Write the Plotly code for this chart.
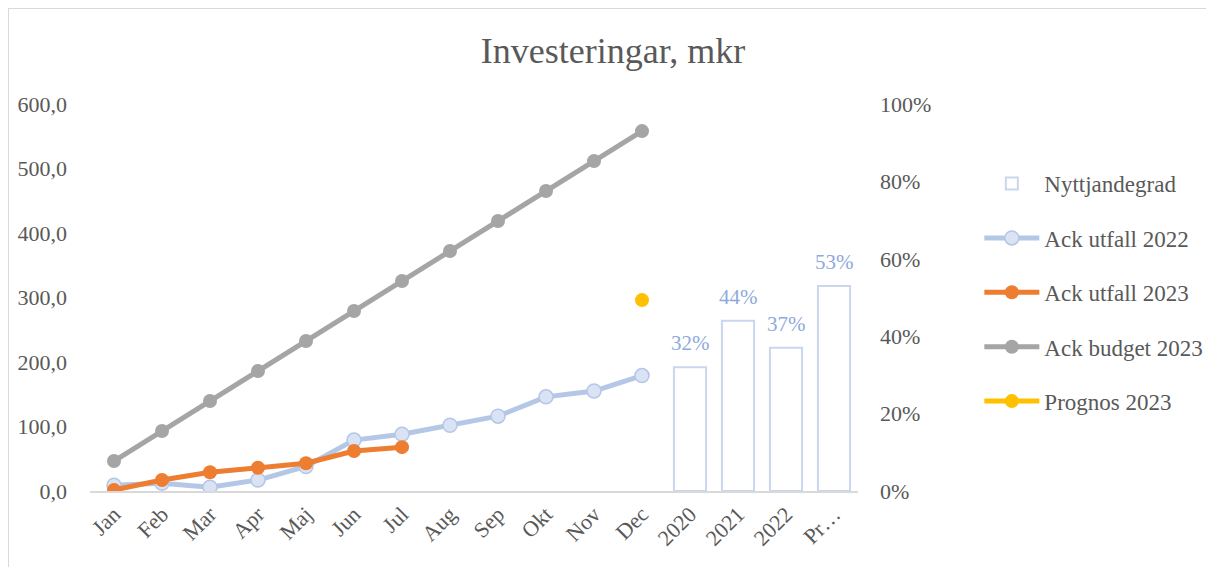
import plotly.graph_objects as go

categories = ["Jan", "Feb", "Mar", "Apr", "Maj", "Jun", "Jul", "Aug", "Sep", "Okt", "Nov", "Dec",
              "2020", "2021", "2022", "Pr…"]
months = categories[:12]
bar_cats = categories[12:]

nyttjandegrad = [0.32, 0.44, 0.37, 0.53]
ack_utfall_2022 = [9, 12, 6, 17, 38, 79, 88, 102, 116, 146, 155, 179]
ack_utfall_2023 = [1.5, 17, 29, 36, 43, 62, 68]
ack_budget_2023 = [46.5, 93, 139.5, 186, 232.5, 279, 325.5, 372, 418.5, 465, 511.5, 558]
prognos_2023 = [296]
prognos_cats = ["Dec"]

FONT = "Liberation Serif"
GREY = "#595959"

W, H = 1206, 559
L, T = 82, 96
PW, PH = 768, 387

fig = go.Figure()

fig.add_trace(go.Bar(
    x=bar_cats, y=nyttjandegrad, name="Nyttjandegrad", yaxis="y2",
    marker=dict(color="white", line=dict(color="#c9d6ef", width=2)),
    width=0.67,
    legendgroup="a",
))
fig.add_trace(go.Scatter(
    x=months, y=ack_utfall_2022, name="Ack utfall 2022", mode="lines+markers",
    line=dict(color="#b4c7e7", width=5),
    marker=dict(size=14, color="#dae3f3", line=dict(color="#b4c7e7", width=1.5)),
    legendgroup="b",
))
fig.add_trace(go.Scatter(
    x=months[:len(ack_utfall_2023)], y=ack_utfall_2023, name="Ack utfall 2023", mode="lines+markers",
    line=dict(color="#ed7d31", width=5),
    marker=dict(size=14, color="#ed7d31"),
    legendgroup="c",
))
fig.add_trace(go.Scatter(
    x=months, y=ack_budget_2023, name="Ack budget 2023", mode="lines+markers",
    line=dict(color="#a5a5a5", width=5),
    marker=dict(size=14, color="#a5a5a5"),
    legendgroup="d",
))
fig.add_trace(go.Scatter(
    x=prognos_cats, y=prognos_2023, name="Prognos 2023", mode="lines+markers",
    line=dict(color="#ffc000", width=5),
    marker=dict(size=14, color="#ffc000"),
    legendgroup="e",
))

for c, v in zip(bar_cats, nyttjandegrad):
    fig.add_annotation(x=categories.index(c), y=v, xref="x", yref="y2", text=f"{round(v*100)}%",
                       showarrow=False, yanchor="bottom", yshift=10,
                       font=dict(color="#8faadc", size=21, family=FONT))

fig.update_layout(
    width=W, height=H,
    paper_bgcolor="white", plot_bgcolor="white",
    margin=dict(l=L, r=W - L - PW, t=T, b=H - T - PH, autoexpand=False),
    separators=", ",
    font=dict(family=FONT, color=GREY, size=22),
    title=dict(text="Investeringar, mkr", x=(613 - 8) / W, xanchor="center",
               y=1 - (50 - 8) / H, yanchor="middle",
               font=dict(size=36, family=FONT, color=GREY)),
    showlegend=True,
    legend=dict(x=1.158, y=0.85, xanchor="left", yanchor="top", tracegroupgap=21.5,
                traceorder="grouped", font=dict(size=23, family=FONT, color=GREY),
                itemwidth=55, bgcolor="rgba(0,0,0,0)"),
    xaxis=dict(type="category", categoryorder="array", categoryarray=categories,
               range=[-0.5, 15.5],
               tickangle=-45, showgrid=False, showline=True, linecolor="#d9d9d9", linewidth=1.5,
               ticks="", tickfont=dict(size=22), zeroline=False, automargin=False),
    yaxis=dict(range=[0, 600], dtick=100, tickformat=".1f", showgrid=False, showline=False,
               zeroline=False, ticklabelstandoff=22, tickfont=dict(size=22), automargin=False),
    yaxis2=dict(range=[0, 1], dtick=0.2, tickformat=".0%", overlaying="y", side="right",
                showgrid=False, showline=False, zeroline=False, ticklabelstandoff=21,
                tickfont=dict(size=22), automargin=False),
    bargap=0.33,
    shapes=[
        dict(type="line", xref="paper", yref="paper",
             x0=-L / PW, x1=(W - L) / PW, y0=(T + PH) / PH, y1=(T + PH) / PH,
             line=dict(color="#d9d9d9", width=2)),
        dict(type="line", xref="paper", yref="paper",
             x0=-L / PW, x1=-L / PW, y0=(T + PH) / PH, y1=-(H - T - PH) / PH,
             line=dict(color="#d9d9d9", width=2)),
    ],
)

fig.write_html("out.html")
